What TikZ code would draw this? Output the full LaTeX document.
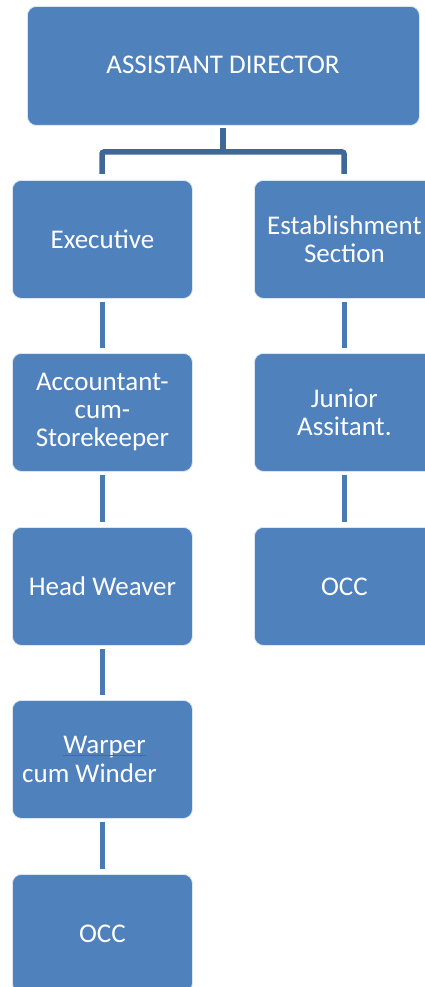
\documentclass[tikz,border=0pt]{standalone}
\usepackage{fontspec}
\setmainfont{Carlito}
\definecolor{boxblue}{HTML}{4F81BD}
\definecolor{linkdark}{HTML}{3F6797}
\definecolor{linkmid}{HTML}{4A79B3}
\tikzset{
  orgfont/.style={font=\fontsize{27}{28}\selectfont},
  orgbox/.style={draw=white!80!boxblue, line width=0.8pt, fill=boxblue, rounded corners=9pt,
    minimum width=180pt, minimum height=118pt, inner sep=0pt, text=white, align=center,
    orgfont, anchor=north west},
  topbox/.style={orgbox, minimum width=392pt, minimum height=119pt},
  toplink/.style={draw=linkdark, line width=5.5pt, rounded corners=2pt},
  sublink/.style={draw=linkmid, line width=5pt},
}
\begin{document}
\begin{tikzpicture}[x=1pt,y=-1pt]
\useasboundingbox (0,0) rectangle (425,987);
\clip (0,0) rectangle (425,987);
\fill[white] (0,0) rectangle (425,987);
% top
\node[topbox] (ad) at (27,6) {};
\node[text=white, orgfont] (adt) at (223,65) {ASSISTANT DIRECTOR};
% left column
\node[orgbox] (ex) at (12,180) {Executive};
\node[orgbox] (acc) at (12,353) {Accountant-\\cum-\\Storekeeper};
\node[orgbox] (hw) at (12,527) {Head Weaver};
\node[orgbox] (wp) at (12,700) {};
\node[orgbox] (occl) at (12,874) {OCC};
% right column
\node[orgbox] (es) at (254,180) {Establishment\\Section};
\node[orgbox] (ja) at (254,353) {Junior\\Assitant.};
\node[orgbox] (occr) at (254,527) {OCC};
% warper text
\node[text=white, orgfont, anchor=base, inner sep=0pt] (wpa) at (104.5,753) {Warper};
\node[text=white, orgfont, anchor=base west, inner sep=0pt] (wpb) at (22,782) {cum Winder};
\draw[red!45!boxblue, line width=0.4pt] ([yshift=-2pt]wpa.base west) -- ([yshift=-2pt]wpa.base east);
% top connectors
\coordinate (j) at (223,152);
\coordinate (jl) at (102,152);
\coordinate (jr) at (344,152);
\draw[toplink] ([yshift=-2pt]ad.south -| j) -- (j);
\draw[toplink] ([yshift=6pt]ex.north -| jl) -- (jl) -- (jr) -- ([yshift=6pt]es.north -| jr);
% column connectors
\foreach \a/\b in {ex/acc, acc/hw, hw/wp, wp/occl, es/ja, ja/occr}{
  \draw[sublink] ([yshift=-3pt]\a.south) -- ([yshift=5pt]\b.north);
}
\end{tikzpicture}
\end{document}
